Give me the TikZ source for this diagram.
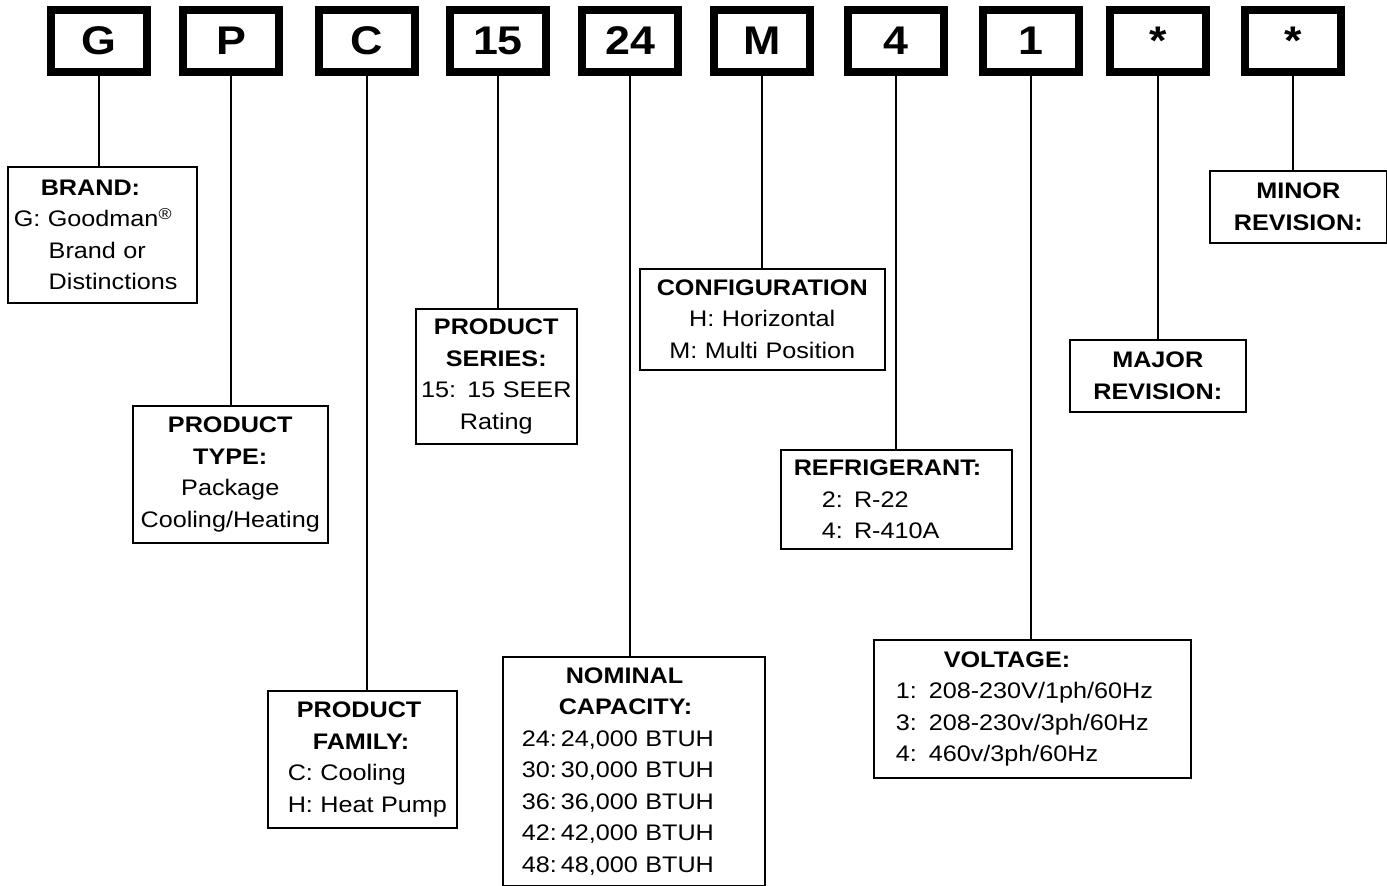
\documentclass[tikz,border=0pt]{standalone}
\usepackage{fontspec}
\setmainfont{Liberation Sans}[FakeStretch=1.12]
\usepackage{tikz}

\begin{document}
\begin{tikzpicture}[
        x=1pt, y=-1pt,
        every node/.style={font=\fontsize{22.5}{31.5}\selectfont},
        codebox/.style={rectangle,draw,line width=8pt,minimum width=96pt,minimum height=62pt,inner sep=0pt,font=\fontsize{40}{44}\selectfont\bfseries},
        infobox/.style={rectangle,draw,line width=1.5pt,anchor=north west,inner xsep=0pt,inner ysep=0pt,align=left},
        stem/.style={line width=1.6pt},
        ]
        \useasboundingbox (0,0) rectangle (1387,886);

        % model number digits
        \node[codebox](code_g) at (99,41){G};
        \node[codebox](code_p) at (231,41){P};
        \node[codebox](code_c) at (367,41){C};
        \node[codebox](code_15) at (498,41){15};
        \node[codebox](code_24) at (630,41){24};
        \node[codebox](code_m) at (762,41){M};
        \node[codebox](code_4) at (896,41){4};
        \node[codebox](code_1) at (1031,41){1};
        \node[codebox](code_maj) at (1158,41){*};
        \node[codebox](code_min) at (1293,41){*};

        % explanations
        \node[infobox, text width=189pt, minimum height=136pt](brand) at (7,166){\hspace*{33pt}\textbf{BRAND:}\\\hspace*{6pt}G: Goodman\textsuperscript{\textregistered}\\\hspace*{41pt}Brand or\\\hspace*{41pt}Distinctions};
        \node[infobox, text width=195pt, minimum height=137pt, align=center](prod_type) at (132,405){\textbf{PRODUCT}\\\textbf{TYPE:}\\Package\\Cooling/Heating};
        \node[infobox, text width=189pt, minimum height=137pt](prod_family) at (267,690){\hspace*{29pt}\textbf{PRODUCT}\\\hspace*{45pt}\textbf{FAMILY:}\\\hspace*{20pt}C: Cooling\\\hspace*{20pt}H: Heat Pump};
        \node[infobox, text width=161pt, minimum height=135pt, align=center](prod_series) at (415,308){\textbf{PRODUCT}\\\textbf{SERIES:}\\15: 15 SEER\\Rating};
        \node[infobox, text width=262pt, minimum height=229pt](nom_cap) at (502,656){\hspace*{63pt}\textbf{NOMINAL}\\\hspace*{56pt}\textbf{CAPACITY:}\\\hspace*{19pt}24:\hspace{4pt}24,000 BTUH\\\hspace*{19pt}30:\hspace{4pt}30,000 BTUH\\\hspace*{19pt}36:\hspace{4pt}36,000 BTUH\\\hspace*{19pt}42:\hspace{4pt}42,000 BTUH\\\hspace*{19pt}48:\hspace{4pt}48,000 BTUH};
        \node[infobox, text width=245pt, minimum height=101pt, align=center](config) at (639,268){\textbf{CONFIGURATION}\\H: Horizontal\\M: Multi Position};
        \node[infobox, text width=231pt, minimum height=99pt](refrig) at (780,449){\hspace*{13pt}\textbf{REFRIGERANT:}\\\hspace*{41pt}2: R-22\\\hspace*{41pt}4: R-410A};
        \node[infobox, text width=317pt, minimum height=138pt](voltage) at (873,639){\hspace*{70pt}\textbf{VOLTAGE:}\\\hspace*{22pt}1:\hspace{12pt}208-230V/1ph/60Hz\\\hspace*{22pt}3:\hspace{12pt}208-230v/3ph/60Hz\\\hspace*{22pt}4:\hspace{12pt}460v/3ph/60Hz};
        \node[infobox, text width=176pt, minimum height=72pt, align=center](major_rev) at (1069,339){\textbf{MAJOR}\\\textbf{REVISION:}};
        \node[infobox, text width=177pt, minimum height=72pt, align=center](minor_rev) at (1209,170){\textbf{MINOR}\\\textbf{REVISION:}};

        % stems
        \draw[stem] (code_g.south) -- (code_g.south |- brand.north);
        \draw[stem] (code_p.south) -- (code_p.south |- prod_type.north);
        \draw[stem] (code_c.south) -- (code_c.south |- prod_family.north);
        \draw[stem] (code_15.south) -- (code_15.south |- prod_series.north);
        \draw[stem] (code_24.south) -- (code_24.south |- nom_cap.north);
        \draw[stem] (code_m.south) -- (code_m.south |- config.north);
        \draw[stem] (code_4.south) -- (code_4.south |- refrig.north);
        \draw[stem] (code_1.south) -- (code_1.south |- voltage.north);
        \draw[stem] (code_maj.south) -- (code_maj.south |- major_rev.north);
        \draw[stem] (code_min.south) -- (code_min.south |- minor_rev.north);

        \end{tikzpicture}
\end{document}
